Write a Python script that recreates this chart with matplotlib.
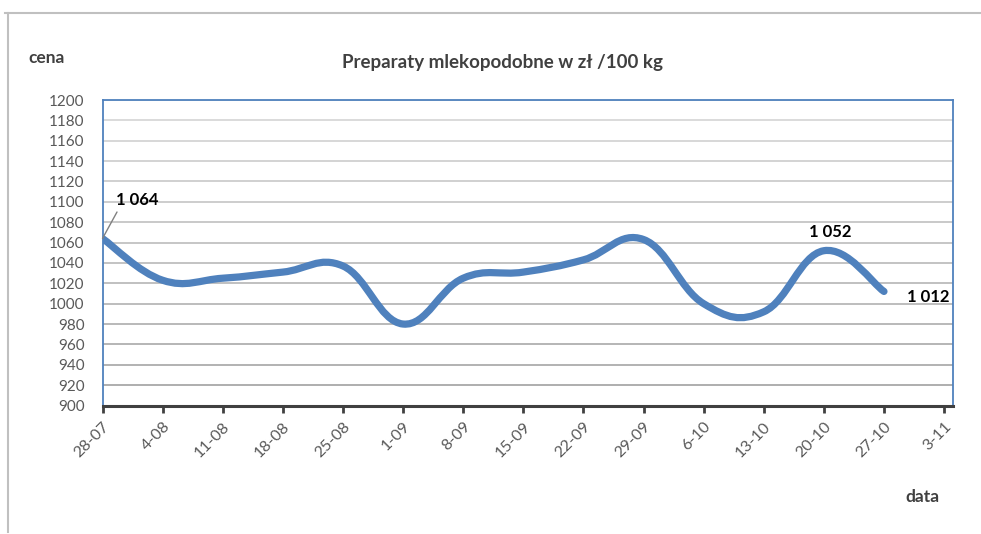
import numpy as np
import matplotlib
matplotlib.use("Agg")
import matplotlib.pyplot as plt
from matplotlib.path import Path
from matplotlib.patches import PathPatch
from matplotlib.lines import Line2D

# ---- data ----
dates = ["28-07", "4-08", "11-08", "18-08", "25-08", "1-09", "8-09", "15-09",
         "22-09", "29-09", "6-10", "13-10", "20-10", "27-10", "3-11"]
prices = [1064, 1023, 1025, 1031, 1037, 980, 1025, 1031, 1043, 1063, 1000, 992, 1052, 1012]
labelled = {0: "1 064", 12: "1 052", 13: "1 012"}
yticks = list(range(900, 1201, 20))

title = "Preparaty mlekopodobne w zł /100 kg"
ylab = "cena"
xlab = "data"

plt.rcParams['font.family'] = ['Lato', 'DejaVu Sans']

W, H = 981, 534
fig = plt.figure(figsize=(W / 100, H / 100), dpi=100)
ax = fig.add_axes([102.5 / W, 1 - 405.5 / H, (952.5 - 102.5) / W, (405.5 - 100) / H])

x = np.arange(len(prices), dtype=float)
y = np.array(prices, dtype=float)

ax.set_xlim(0, 14.14)
ax.set_ylim(900, 1200)

# Excel-like smoothed line (Bezier segments through the data points)
def excel_smooth(xs, ys, sx, sy):
    P = np.column_stack([xs * sx, ys * sy])
    n = len(P)
    verts = [P[0]]
    codes = [Path.MOVETO]
    f = 0.2
    for i in range(n - 1):
        p0 = P[i - 1] if i > 0 else P[i]
        p1 = P[i]
        p2 = P[i + 1]
        p3 = P[i + 2] if i + 2 < n else P[i + 1]
        c1 = p1 + f * (p2 - p0)
        c2 = p2 - f * (p3 - p1)
        verts += [c1, c2, p2]
        codes += [Path.CURVE4] * 3
    V = np.array(verts)
    V[:, 0] /= sx
    V[:, 1] /= sy
    return Path(V, codes)

path = excel_smooth(x, y, 60.1, 1.0167)
ax.add_patch(PathPatch(path, facecolor='none', edgecolor='#4F81BD', lw=5.2,
                       capstyle='round', joinstyle='round', zorder=3))

# grid
n_g = len(yticks) - 2
for i, t in enumerate(yticks[1:]):
    g = 0.66 + (0.86 - 0.66) * (i / n_g)
    ax.axhline(t, color=(g, g, g), lw=1.3, zorder=1)

ax.set_yticks(yticks)
ax.set_yticklabels([str(t) for t in yticks], fontsize=11, color='#595959')
ax.set_xticks(np.arange(len(dates)))
ax.set_xticklabels(dates, rotation=45, ha='right', va='top', rotation_mode='anchor',
                   fontsize=11.5, color='#595959')
ax.tick_params(axis='y', length=0, pad=13)
ax.tick_params(axis='x', length=5, width=2, color='#404040', direction='out', pad=5)

for s in ['left', 'top', 'right']:
    ax.spines[s].set_color('#4F81BD')
    ax.spines[s].set_linewidth(1.3)
ax.spines['bottom'].set_color('#404040')
ax.spines['bottom'].set_linewidth(2.2)
ax.spines['bottom'].set_zorder(4)

# data labels
ax.annotate("", xy=(x[0], y[0]), xytext=(117, H - 212), textcoords='figure pixels',
            arrowprops=dict(arrowstyle='-', color='#808080', lw=1, shrinkA=0, shrinkB=0),
            zorder=5)
fig.text(137 / W, 1 - 200 / H, labelled[0], fontsize=12, fontweight='bold', color='black',
         ha='center', va='center')
ax.annotate(labelled[12], xy=(x[12], y[12]), xytext=(6, 19), textcoords='offset pixels',
            fontsize=12, fontweight='bold', color='black', ha='center', va='center')
ax.annotate(labelled[13], xy=(x[13], y[13]), xytext=(44, -6), textcoords='offset pixels',
            fontsize=12, fontweight='bold', color='black', ha='center', va='center')

fig.text(502 / W, 1 - 62 / H, title, fontsize=13.5, fontweight='bold', color='#404040',
         ha='center', va='center')
fig.text(28 / W, 1 - 58 / H, ylab, fontsize=12.5, fontweight='bold', color='#404040',
         ha='left', va='center')
fig.text(922 / W, 1 - 497 / H, xlab, fontsize=12.5, fontweight='bold', color='#404040',
         ha='center', va='center')

# outer chart border
fig.add_artist(Line2D([5 / W, 1], [1 - 12.5 / H, 1 - 12.5 / H], color='#c0c0c0', lw=1.5,
                      transform=fig.transFigure))
fig.add_artist(Line2D([7.5 / W, 7.5 / W], [1 - 12.5 / H, 1 - 532 / H], color='#c0c0c0', lw=1.5,
                      transform=fig.transFigure))

fig.savefig('out.png', dpi=100)
